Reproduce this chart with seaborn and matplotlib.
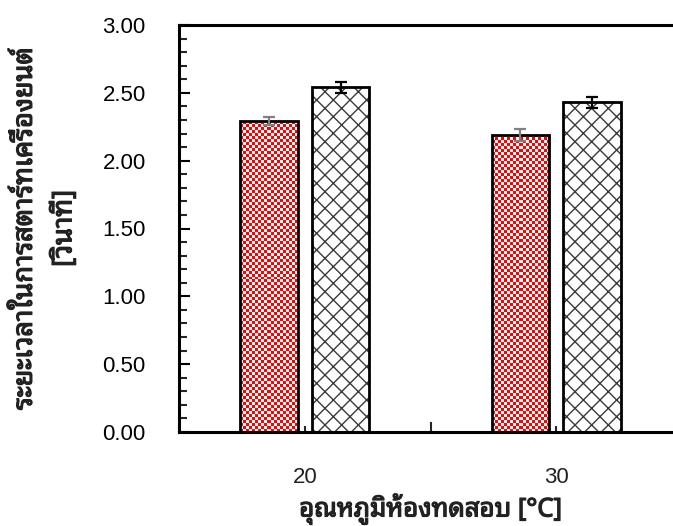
import numpy as np
import pandas as pd
import matplotlib
matplotlib.use("Agg")
import matplotlib.pyplot as plt
from matplotlib import font_manager, patheffects
from matplotlib.ft2font import FT2Font
import seaborn as sns

# ---- data ----
temps = ["20", "30"]
series = ["A", "B"]
values_a = [2.29, 2.19]
values_b = [2.54, 2.43]
err_a = [0.03, 0.045]
err_b = [0.04, 0.04]
xlabel = "อุณหภูมิห้องทดสอบ [°C]"
ylabel = "ระยะเวลาในการสตาร์ทเครื่องยนต์\n[วินาที]"
yticks = [0.0, 0.5, 1.0, 1.5, 2.0, 2.5, 3.0]

# ---- find a Thai capable font ----
thai_family = None
cands = []
for f in font_manager.fontManager.ttflist:
    try:
        ft = FT2Font(f.fname)
        if ft.get_char_index(ord("ก")) and ft.get_char_index(ord("ุ")):
            cands.append(f)
    except Exception:
        pass
pref = ["Tahoma", "Microsoft Sans Serif", "Noto Sans Thai Looped", "Loma", "Garuda",
        "Norasi", "Waree", "Noto Sans Thai", "Noto Sans Thai UI", "Sarabun"]
for p in pref:
    if any(f.name == p for f in cands):
        thai_family = p
        break
if thai_family is None and cands:
    thai_family = cands[0].name
has_bold = any(f.name == thai_family and (f.weight == "bold" or (isinstance(f.weight, int) and f.weight >= 600))
               for f in cands)
thai_fams = ([thai_family] if thai_family else []) + ["Liberation Sans", "DejaVu Sans"]

sns.set_theme(style="ticks")
plt.rcParams["font.family"] = ["Liberation Sans", "DejaVu Sans"]
plt.rcParams["hatch.linewidth"] = 1.0

df = pd.DataFrame({
    "temp": temps * 2,
    "series": [series[0]] * 2 + [series[1]] * 2,
    "value": values_a + values_b,
})

fig = plt.figure(figsize=(6.73, 5.26), dpi=100)
ax = fig.add_axes([179 / 673, 94 / 526, 503 / 673, 407 / 526])

sns.barplot(data=df, x="temp", y="value", hue="series", order=temps,
            hue_order=series, errorbar=None, width=0.57, gap=0.2,
            palette=["red", "white"], edgecolor="black", linewidth=2.0,
            legend=False, ax=ax, zorder=2)

bars = [p for p in ax.patches]
bars_a = bars[:2]
bars_b = bars[2:4]

# checkerboard fill for series A
for p in bars_a:
    x0, y0 = p.get_x(), p.get_y()
    w, h = p.get_width(), p.get_height()
    wpx = w * 251.5
    hpx = h * 135.67
    nx = int(round(wpx / 3.0))
    ny = int(round(hpx / 3.0))
    board = (np.add.outer(np.arange(ny), np.arange(nx)) % 2).astype(float)
    img = ax.imshow(board, extent=(x0, x0 + w, y0, y0 + h),
                    cmap=matplotlib.colors.ListedColormap(["#ff0000", "white"]),
                    interpolation="nearest", aspect="auto", zorder=2.5, origin="lower")
    img.set_clip_path(p)
    p.set_zorder(3)
    p.set_facecolor("none")

for p in bars_b:
    r = matplotlib.patches.Rectangle((p.get_x(), p.get_y()), p.get_width(), p.get_height(),
                                     facecolor="white", edgecolor="#3a3a3a", hatch="xx", linewidth=0, zorder=2.2)
    ax.add_patch(r)
    p.set_facecolor("none")
    p.set_zorder(3)

xa = [p.get_x() + p.get_width() / 2 for p in bars_a]
xb = [p.get_x() + p.get_width() / 2 for p in bars_b]
ax.errorbar(xa, values_a, yerr=err_a, fmt="none", ecolor="#808080", elinewidth=1.6, capsize=4.5, capthick=1.6, zorder=4)
ax.errorbar(xb, values_b, yerr=err_b, fmt="none", ecolor="black", elinewidth=1.6, capsize=4.5, capthick=1.6, zorder=4)

ax.set_xlim(-0.5, 1.5)
ax.set_ylim(0, 3.0)
ax.set_yticks(yticks)
ax.set_yticklabels([f"{v:.2f}" for v in yticks], fontsize=16, color="#222222")
ax.set_yticks(np.arange(0, 3.0001, 0.1), minor=True)
ax.set_xticks([0, 1])
ax.set_xticklabels(temps, fontsize=16, color="#222222")
ax.set_xticks([-0.5, 0.5, 1.5], minor=True)

ax.tick_params(axis="y", which="major", direction="in", length=8, width=1.5, pad=24, colors="black")
ax.tick_params(axis="y", which="minor", direction="in", length=6, width=1.5)
ax.tick_params(axis="x", which="major", direction="in", length=4.5, width=1.5, pad=25)
ax.tick_params(axis="x", which="minor", direction="in", length=7.5, width=1.5)

for s in ["left", "bottom", "top"]:
    ax.spines[s].set_linewidth(2.2)
    ax.spines[s].set_color("black")
ax.spines["right"].set_visible(False)

bold = [] if has_bold else [patheffects.withStroke(linewidth=0.9, foreground="#222222")]
ax.set_xlabel(xlabel, fontsize=18.5, fontweight="bold", family=thai_fams, color="#222222", path_effects=bold)
ax.set_ylabel(ylabel, fontsize=19.5, fontweight="bold", family=thai_fams, color="#222222",
              linespacing=1.55, path_effects=bold)
ax.xaxis.set_label_coords(0.5, -0.151)
ax.yaxis.set_label_coords(-0.2, 0.5)

fig.savefig("out.png", dpi=100)
